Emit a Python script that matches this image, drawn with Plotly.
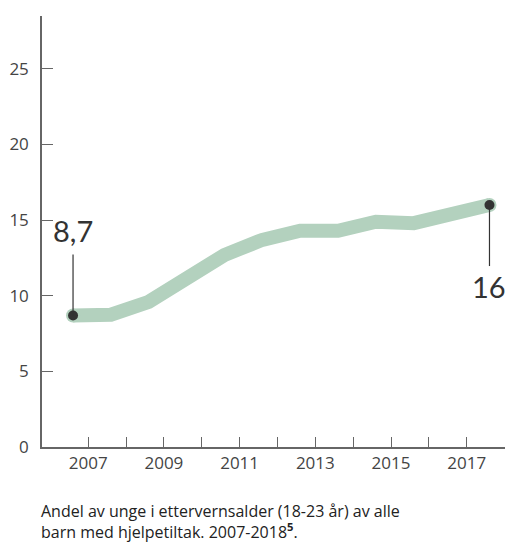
import plotly.graph_objects as go

years = [2007, 2008, 2009, 2010, 2011, 2012, 2013, 2014, 2015, 2016, 2017, 2018]
share = [8.7, 8.75, 9.6, 11.2, 12.7, 13.7, 14.3, 14.3, 14.9, 14.8, 15.3, 16.0]
x_ticks = list(range(2007, 2019))
x_labels = [str(y) if y % 2 == 1 else "" for y in x_ticks]
y_ticks = [0, 5, 10, 15, 20, 25]
first_label = "8,7"
last_label = "16"
caption = "Andel av unge i ettervernsalder (18-23 år) av alle<br>barn med hjelpetiltak. 2007-2018<sup><b>5</b></sup>."

OFFSET = -0.4  # points sit left of the year ticks in the reference
xs = [y + OFFSET for y in years]

GREEN = "#b3d1be"
DARK = "#333333"
AXIS = "#666666"
FONT = "Open Sans"
BIG = "Lato"

fig = go.Figure()
fig.add_trace(go.Scatter(x=xs, y=share, mode="lines",
                         line=dict(color=GREEN, width=14), cliponaxis=False,
                         hoverinfo="skip", showlegend=False))
fig.add_trace(go.Scatter(x=[xs[0], xs[-1]], y=[share[0], share[-1]], mode="markers",
                         marker=dict(color=GREEN, size=14), cliponaxis=False,
                         hoverinfo="skip", showlegend=False))
fig.add_trace(go.Scatter(x=[xs[0], xs[-1]], y=[share[0], share[-1]], mode="markers",
                         marker=dict(color=DARK, size=10), cliponaxis=False,
                         hoverinfo="skip", showlegend=False))

fig.add_shape(type="line", xref="x", yref="y", x0=xs[0], x1=xs[0],
              ysizemode="pixel", yanchor=share[0], y0=0, y1=61,
              line=dict(color=DARK, width=1.2))
fig.add_shape(type="line", xref="x", yref="y", x0=xs[-1], x1=xs[-1],
              ysizemode="pixel", yanchor=share[-1], y0=0, y1=-61,
              line=dict(color=DARK, width=1.2))

fig.add_annotation(x=xs[0], y=share[0], text=first_label, showarrow=False,
                   yshift=85, font=dict(family=BIG, size=29, color=DARK))
fig.add_annotation(x=xs[-1], y=share[-1], text=last_label, showarrow=False,
                   yshift=-81, font=dict(family=BIG, size=29, color=DARK))

fig.add_annotation(xref="paper", yref="paper", x=0, y=0, xanchor="left", yanchor="top",
                   xshift=-3, yshift=-51, align="left", showarrow=False,
                   text=caption, font=dict(family=FONT, size=16, color="#222222"))

fig.update_layout(
    width=506, height=543,
    margin=dict(l=42, r=1, t=16, b=96, autoexpand=False),
    plot_bgcolor="white", paper_bgcolor="white",
    font=dict(family=FONT, size=17, color="#444444"),
    xaxis=dict(range=[2005.78, 2018.01], tickmode="array", tickvals=x_ticks, ticktext=x_labels,
               ticks="inside", ticklen=10, tickcolor=AXIS, tickwidth=1.2, automargin=False,
               showline=True, linecolor=AXIS, linewidth=1.5, showgrid=False, zeroline=False,
               fixedrange=True),
    yaxis=dict(range=[0, 28.5], tickmode="array", tickvals=y_ticks,
               ticks="inside", ticklen=11, tickcolor=AXIS, tickwidth=1.2, automargin=False,
               ticklabelstandoff=8,
               showline=True, linecolor=AXIS, linewidth=1.5, showgrid=False, zeroline=False,
               fixedrange=True),
)

fig.write_html("out.html", config={"displayModeBar": False},
               post_script="document.body.style.margin='0';document.body.style.padding='0';")
